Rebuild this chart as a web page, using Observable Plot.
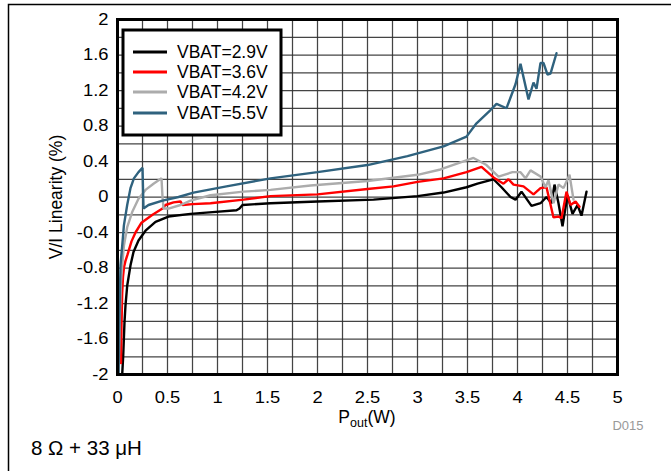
<!DOCTYPE html>
<html>
<head>
<meta charset="utf-8">
<script src="https://cdn.jsdelivr.net/npm/d3@7"></script>
<script src="https://cdn.jsdelivr.net/npm/@observablehq/plot@0.6"></script>
<style>
  html, body { margin: 0; padding: 0; background: #fff; }
  #chart { position: relative; width: 671px; height: 471px; overflow: hidden; }
</style>
</head>
<body>
<div id="chart"></div>
<script>
// ---- Data ----
const seriesNames = ["VBAT=2.9V", "VBAT=3.6V", "VBAT=4.2V", "VBAT=5.5V"];
const seriesColors = ["#000000", "#ff0000", "#acacac", "#2f627e"];

const pout29 = [0.047, 0.057, 0.07, 0.08, 0.097, 0.13, 0.16, 0.21, 0.28, 0.38, 0.51, 0.73, 0.95, 1.19, 1.22, 1.25, 1.53, 2.0, 2.56, 3.0, 3.26, 3.49, 3.6, 3.73, 3.76, 3.84, 3.93, 3.98, 4.04, 4.14, 4.23, 4.29, 4.34, 4.37, 4.41, 4.45, 4.50, 4.55, 4.60, 4.64, 4.69];
const lin29  = [-2, -1.79, -1.41, -1.22, -1.0, -0.77, -0.62, -0.49, -0.38, -0.28, -0.22, -0.19, -0.17, -0.15, -0.13, -0.09, -0.07, -0.05, -0.03, 0.01, 0.05, 0.11, 0.15, 0.19, 0.2, 0.11, 0.0, -0.03, 0.06, -0.1, -0.07, 0.0, -0.07, 0.14, -0.07, -0.33, 0.02, -0.19, -0.09, -0.21, 0.06];

const pout36 = [0.035, 0.04, 0.047, 0.055, 0.065, 0.08, 0.1, 0.14, 0.18, 0.24, 0.35, 0.45, 0.48, 0.56, 0.63, 0.65, 0.75, 0.93, 1.26, 1.53, 2.0, 2.5, 2.76, 3.0, 3.26, 3.49, 3.64, 3.76, 3.86, 3.91, 3.96, 4.06, 4.16, 4.23, 4.29, 4.36, 4.41, 4.44, 4.49, 4.53, 4.58, 4.62];
const lin36  = [-1.87, -1.45, -1.08, -0.9, -0.79, -0.72, -0.65, -0.5, -0.4, -0.29, -0.2, -0.13, -0.09, -0.06, -0.05, -0.09, -0.08, -0.07, -0.03, 0.01, 0.03, 0.09, 0.12, 0.17, 0.21, 0.28, 0.34, 0.22, 0.15, 0.2, 0.14, 0.12, 0.03, 0.1, 0.11, -0.23, -0.22, -0.24, 0.06, -0.09, -0.05, -0.11];

const pout42 = [0.012, 0.015, 0.025, 0.035, 0.047, 0.064, 0.097, 0.147, 0.21, 0.28, 0.36, 0.44, 0.45, 0.46, 0.51, 0.63, 0.73, 0.93, 1.26, 1.53, 1.93, 2.5, 3.0, 3.23, 3.56, 3.69, 3.81, 3.95, 4.03, 4.08, 4.13, 4.23, 4.28, 4.31, 4.36, 4.41, 4.46, 4.52, 4.56];
const lin42  = [-2, -1.79, -1.3, -0.95, -0.77, -0.55, -0.34, -0.17, -0.02, 0.08, 0.15, 0.21, 0.0, -0.13, -0.13, -0.09, -0.04, 0.02, 0.06, 0.08, 0.13, 0.18, 0.25, 0.31, 0.44, 0.36, 0.23, 0.28, 0.28, 0.21, 0.3, 0.23, 0.11, 0.19, -0.07, 0.14, 0.1, 0.25, -0.03];

const pout55 = [0.01, 0.013, 0.02, 0.03, 0.047, 0.064, 0.097, 0.13, 0.164, 0.21, 0.25, 0.26, 0.31, 0.45, 0.61, 0.76, 1.09, 1.53, 2.0, 2.5, 2.9, 3.26, 3.49, 3.59, 3.73, 3.79, 3.89, 3.98, 4.03, 4.11, 4.16, 4.19, 4.23, 4.26, 4.30, 4.33, 4.39];
const lin55  = [-2, -1.8, -1.3, -0.77, -0.55, -0.32, -0.09, 0.1, 0.21, 0.28, 0.33, -0.13, -0.09, -0.04, 0.0, 0.05, 0.12, 0.21, 0.28, 0.36, 0.46, 0.57, 0.68, 0.83, 0.98, 1.05, 1.0, 1.27, 1.5, 1.1, 1.29, 1.22, 1.51, 1.51, 1.38, 1.39, 1.62];

const xTicks = [0, 0.5, 1, 1.5, 2, 2.5, 3, 3.5, 4, 4.5, 5];
const xTickLabels = ["0", "0.5", "1", "1.5", "2", "2.5", "3", "3.5", "4", "4.5", "5"];
const yTicks = [-2, -1.6, -1.2, -0.8, -0.4, 0, 0.4, 0.8, 1.2, 1.6, 2];
const yTickLabels = ["-2", "-1.6", "-1.2", "-0.8", "-0.4", "0", "0.4", "0.8", "1.2", "1.6", "2"];
const xGrid = [0.25, 0.5, 0.75, 1, 1.25, 1.5, 1.75, 2, 2.25, 2.5, 2.75, 3, 3.25, 3.5, 3.75, 4, 4.25, 4.5, 4.75];
const yGrid = [-1.8, -1.6, -1.4, -1.2, -1, -0.8, -0.6, -0.4, -0.2, 0, 0.2, 0.4, 0.6, 0.8, 1, 1.2, 1.4, 1.6, 1.8];

const xLabelMain = "P", xLabelSub = "out", xLabelTail = "(W)";
const yLabel = "V/I Linearity (%)";
const figId = "D015";
const caption = "8 \u03A9 + 33 \u03BCH";

// ---- Build table ----
const seriesX = [pout29, pout36, pout42, pout55];
const seriesY = [lin29, lin36, lin42, lin55];
const rows = [];
seriesNames.forEach((name, i) => {
  seriesX[i].forEach((x, j) => rows.push({series: name, x, y: seriesY[i][j]}));
});

const FONT = "'Liberation Sans', Arial, Helvetica, sans-serif";

const chart = Plot.plot({
  width: 671,
  height: 471,
  marginLeft: 117,
  marginRight: 54,
  marginTop: 19,
  marginBottom: 97,
  style: {fontFamily: FONT, fontSize: "17px", color: "#000", background: "transparent", overflow: "visible"},
  x: {domain: [0, 5]},
  y: {domain: [-2, 2]},
  color: {domain: seriesNames, range: seriesColors},
  marks: [
    Plot.ruleX(xGrid, {stroke: "#303030", strokeWidth: 1.25, strokeOpacity: 0.9}),
    Plot.ruleY(yGrid, {stroke: "#303030", strokeWidth: 1.25, strokeOpacity: 0.9}),
    Plot.line(rows, {x: "x", y: "y", z: "series", stroke: "series", strokeWidth: 2.4, clip: true, strokeLinejoin: "miter"}),
    Plot.frame({stroke: "#000", strokeWidth: 3}),
    Plot.axisX({ticks: xTicks, tickSize: 0, tickPadding: 16, tickFormat: (d) => xTickLabels[xTicks.indexOf(d)], label: null, fontSize: 17}),
    Plot.axisY({ticks: yTicks, tickSize: 0, tickPadding: 9, tickFormat: (d) => yTickLabels[yTicks.indexOf(d)], label: null, fontSize: 17})
  ]
});

document.getElementById("chart").appendChild(chart);

// ---- Extra annotations ----
const svg = d3.select(chart);

// widen axis tick labels slightly, like the reference glyphs
svg.selectAll('g[aria-label="x-axis tick label"] text, g[aria-label="y-axis tick label"] text')
  .each(function() {
    const t = d3.select(this);
    const tr = t.attr("transform") || "";
    t.attr("transform", tr + " scale(1.08,1)");
  });

// outer border (top & left visible)
svg.append("rect")
  .attr("x", 8.5).attr("y", 4.5).attr("width", 700).attr("height", 500)
  .attr("fill", "none").attr("stroke", "#000").attr("stroke-width", 1.5);

// y label
svg.append("text")
  .attr("transform", "translate(62,197) rotate(-90)")
  .attr("text-anchor", "middle")
  .attr("font-family", FONT).attr("font-size", 17.5)
  .text(yLabel);

// x label with subscript
const xl = svg.append("text")
  .attr("x", 367).attr("y", 423)
  .attr("text-anchor", "middle")
  .attr("font-family", FONT).attr("font-size", 17.5);
xl.append("tspan").text(xLabelMain);
xl.append("tspan").attr("font-size", 12.5).attr("dy", 4).text(xLabelSub);
xl.append("tspan").attr("dy", -4).text(xLabelTail);

// figure id
svg.append("text")
  .attr("x", 628).attr("y", 430)
  .attr("text-anchor", "middle")
  .attr("font-family", FONT).attr("font-size", 13)
  .attr("fill", "#999")
  .text(figId);

// caption
svg.append("text")
  .attr("x", 31).attr("y", 455)
  .attr("text-anchor", "start")
  .attr("font-family", FONT).attr("font-size", 20.5)
  .text(caption);

// legend
const lg = svg.append("g");
lg.append("rect")
  .attr("x", 123).attr("y", 30).attr("width", 158).attr("height", 105)
  .attr("fill", "#fff").attr("stroke", "#000").attr("stroke-width", 3);
const legY = [52, 72, 92, 113];
seriesNames.forEach((name, i) => {
  lg.append("line")
    .attr("x1", 133).attr("x2", 167).attr("y1", legY[i]).attr("y2", legY[i])
    .attr("stroke", seriesColors[i]).attr("stroke-width", 2.8);
  lg.append("text")
    .attr("x", 177).attr("y", legY[i]).attr("dy", "0.36em")
    .attr("text-anchor", "start")
    .attr("font-family", FONT).attr("font-size", 17.5)
    .text(name);
});
</script>
</body>
</html>
